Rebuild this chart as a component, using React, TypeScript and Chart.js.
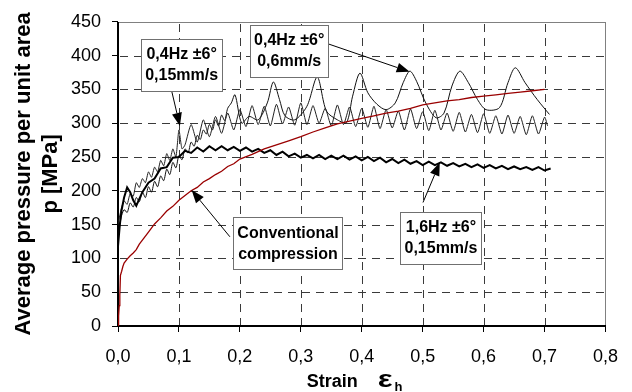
import React, { useEffect, useRef } from 'react';
import { Chart, registerables } from 'chart.js';

Chart.register(...registerables);

const FONT = 'Arial, "Liberation Sans", Helvetica, sans-serif';

const xTickLabels = ['0,0', '0,1', '0,2', '0,3', '0,4', '0,5', '0,6', '0,7', '0,8'];
const yTickLabels = ['0', '50', '100', '150', '200', '250', '300', '350', '400', '450'];

// Conventional compression
const convStrain = [0, 0.001, 0.002, 0.003, 0.004, 0.006, 0.008, 0.01, 0.015, 0.02, 0.025, 0.03, 0.035, 0.04,
  0.05, 0.06, 0.07, 0.08, 0.09, 0.1, 0.11, 0.12, 0.13, 0.14, 0.15, 0.16, 0.17, 0.18, 0.19, 0.2,
  0.22, 0.24, 0.26, 0.28, 0.3, 0.32, 0.34, 0.36, 0.38, 0.4, 0.42, 0.44, 0.46, 0.48, 0.5, 0.52, 0.54,
  0.56, 0.58, 0.6, 0.62, 0.64, 0.66, 0.68, 0.7];
const convPressure = [0, 15, 30, 45, 75, 81, 88, 93, 99, 104, 108, 113, 121, 127,
  139, 151, 160, 170, 177, 186, 193, 200, 205, 213, 218, 224, 229, 236, 240, 247,
  254, 262, 268, 274, 280, 287, 293, 299, 303, 307, 311, 315, 318, 322, 327, 330, 333,
  335, 338, 340, 342, 344, 346, 348, 350];

// 1,6Hz ±6° 0,15mm/s
const hz16Strain = [0, 0.003, 0.006, 0.01, 0.015, 0.02, 0.025, 0.03, 0.035, 0.04,
  0.05, 0.06, 0.07, 0.08, 0.09, 0.1, 0.11, 0.12, 0.13, 0.14, 0.15, 0.16, 0.17, 0.18, 0.19, 0.2,
  0.21, 0.22, 0.23, 0.24, 0.25, 0.26, 0.27, 0.28, 0.29, 0.3, 0.31, 0.32, 0.33, 0.34, 0.35, 0.36,
  0.37, 0.38, 0.39, 0.4, 0.41, 0.42, 0.43, 0.44, 0.45, 0.46, 0.47, 0.48, 0.49, 0.5, 0.51, 0.52,
  0.53, 0.54, 0.55, 0.56, 0.57, 0.58, 0.59, 0.6, 0.61, 0.62, 0.63, 0.64, 0.65, 0.66, 0.67, 0.68,
  0.69, 0.7, 0.71];
const hz16Pressure = [118, 150, 172, 190, 205, 198, 186, 178, 188, 198,
  212, 218, 233, 235, 249, 250, 259, 256, 264, 258, 266, 260, 266, 260, 265, 259,
  264, 258, 262, 256, 260, 253, 258, 251, 255, 249, 253, 248, 253, 247, 252, 247,
  252, 246, 251, 245, 250, 244, 249, 242, 247, 241, 246, 240, 244, 238, 243, 238,
  242, 237, 241, 236, 240, 235, 239, 234, 238, 233, 237, 232, 236, 232, 235, 231,
  235, 230, 233];

// 0,4Hz ±6° 0,15mm/s
const hz04SlowStrain = [0, 0.005, 0.01, 0.015, 0.02, 0.025, 0.03, 0.035, 0.04, 0.045, 0.05, 0.055,
  0.06, 0.065, 0.07, 0.075, 0.08, 0.085, 0.09, 0.095, 0.1, 0.105,
  0.11, 0.12, 0.13, 0.14, 0.15, 0.16, 0.17, 0.18, 0.19, 0.2,
  0.21, 0.22, 0.23, 0.24, 0.25, 0.26, 0.27, 0.28, 0.29, 0.3,
  0.31, 0.32, 0.33, 0.34, 0.35, 0.36, 0.37, 0.38, 0.39, 0.4,
  0.41, 0.42, 0.43, 0.44, 0.45, 0.46, 0.47, 0.48, 0.49, 0.5,
  0.51, 0.52, 0.53, 0.54, 0.55, 0.56, 0.57, 0.58, 0.59, 0.6,
  0.61, 0.62, 0.63, 0.64, 0.65, 0.66, 0.67, 0.68, 0.69, 0.7, 0.705];
const hz04SlowPressure = [150, 172, 185, 180, 196, 192, 212, 205, 218, 212, 228, 220,
  235, 228, 245, 237, 255, 245, 262, 250, 290, 262,
  268, 298, 272, 305, 280, 310, 285, 315, 290, 320,
  295, 326, 298, 325, 296, 328, 299, 324, 297, 330,
  298, 326, 300, 322, 296, 327, 298, 324, 295, 322,
  294, 325, 292, 320, 293, 318, 290, 321, 292, 317,
  289, 319, 290, 315, 288, 316, 287, 313, 286, 314,
  285, 311, 284, 312, 285, 310, 283, 311, 284, 309, 296];

// 0,4Hz ±6° 0,6mm/s
const hz04FastStrain = [0, 0.005, 0.01, 0.015, 0.02, 0.025, 0.03, 0.035, 0.04, 0.045, 0.05, 0.055,
  0.06, 0.065, 0.07, 0.075, 0.08, 0.085, 0.09, 0.095, 0.1, 0.105, 0.11, 0.115, 0.12, 0.125,
  0.13, 0.135, 0.14, 0.145, 0.15, 0.155, 0.16, 0.165, 0.17, 0.175, 0.18, 0.186, 0.192,
  0.203, 0.215, 0.23, 0.245, 0.255, 0.265, 0.274, 0.29, 0.31, 0.327,
  0.342, 0.36, 0.375, 0.385, 0.397, 0.41, 0.425, 0.44, 0.455, 0.468,
  0.479, 0.49, 0.505, 0.522, 0.535, 0.548, 0.561, 0.575, 0.59, 0.604,
  0.626, 0.64, 0.652, 0.668, 0.688, 0.708];
const hz04FastPressure = [130, 160, 172, 168, 182, 176, 190, 184, 198, 190, 206, 198,
  214, 206, 222, 215, 232, 224, 242, 234, 252, 246, 262, 256, 272, 266,
  282, 276, 290, 284, 298, 290, 305, 296, 312, 304, 322, 330, 342,
  300, 310, 305, 330, 361, 335, 311, 305, 325, 368,
  318, 305, 301, 340, 374, 345, 328, 320, 330, 360,
  377, 362, 330, 308, 315, 355, 377, 360, 335, 320,
  323, 360, 382, 360, 335, 313];

// Callouts (label centre and arrow ends in data units: strain, pressure)
const callouts = [
  { lines: ['0,4Hz ±6°', '0,15mm/s'], center: [0.1044, 386.5], from: [0.088, 348], to: [0.1016, 296] },
  { lines: ['0,4Hz ±6°', '0,6mm/s'], center: [0.281, 407.5], from: [0.346, 417], to: [0.4787, 376] },
  { lines: ['Conventional', 'compression'], center: [0.279, 122.5], from: [0.1836, 132], to: [0.1208, 201] },
  { lines: ['1,6Hz ±6°', '0,15mm/s'], center: [0.53, 130.5], from: [0.5005, 182.7], to: [0.528, 241.7] },
];

const zip = (xs: number[], ys: number[]) => xs.map((x, i) => ({ x, y: ys[i] }));

const DASH = 8, GAP = 6;

const decorPlugin = {
  id: 'decor',
  beforeDatasetsDraw(chart: any) {
    const { ctx, chartArea: a, scales } = chart;
    ctx.save();
    ctx.fillStyle = '#3a3a3a';
    const L = Math.round(a.left), R = Math.round(a.right), T = Math.round(a.top), B = Math.round(a.bottom);
    scales.y.ticks.forEach((t: any) => {
      if (t.value <= 0 || t.value >= 450) return;
      const y = Math.round(scales.y.getPixelForValue(t.value));
      for (let p = L + 2; p < R; p += DASH + GAP) {
        ctx.fillRect(p, y, Math.min(DASH, R - p), 1);
      }
    });
    scales.x.ticks.forEach((t: any) => {
      if (t.value <= 0 || t.value >= 0.8) return;
      const x = Math.round(scales.x.getPixelForValue(t.value));
      for (let p = T + 2; p < B; p += DASH + GAP) {
        ctx.fillRect(x, p, 1, Math.min(DASH, B - p));
      }
    });
    // top and right frame
    ctx.fillStyle = '#808080';
    ctx.fillRect(L, T, R - L + 1, 1);
    ctx.fillRect(R, T, 1, B - T);
    // axes
    ctx.fillStyle = '#000';
    ctx.fillRect(L - 1, T, 2, B - T + 1);
    ctx.fillRect(L - 1, B - 1, R - L + 2, 2);
    ctx.restore();
  },
  afterDraw(chart: any) {
    const { ctx, chartArea: a, scales } = chart;
    const sx = scales.x, sy = scales.y;
    ctx.save();
    callouts.forEach((c) => {
      const x1 = sx.getPixelForValue(c.from[0]);
      const y1 = sy.getPixelForValue(c.from[1]);
      const x2 = sx.getPixelForValue(c.to[0]);
      const y2 = sy.getPixelForValue(c.to[1]);
      const ang = Math.atan2(y2 - y1, x2 - x1);
      const len = 13, half = 5;
      const bx = x2 - len * Math.cos(ang), by = y2 - len * Math.sin(ang);
      ctx.strokeStyle = '#000';
      ctx.lineWidth = 1;
      ctx.beginPath();
      ctx.moveTo(x1, y1);
      ctx.lineTo(bx, by);
      ctx.stroke();
      ctx.fillStyle = '#000';
      ctx.beginPath();
      ctx.moveTo(x2, y2);
      ctx.lineTo(bx - half * Math.sin(ang), by + half * Math.cos(ang));
      ctx.lineTo(bx + half * Math.sin(ang), by - half * Math.cos(ang));
      ctx.closePath();
      ctx.fill();
    });
    ctx.font = `bold 16px ${FONT}`;
    ctx.textAlign = 'center';
    ctx.textBaseline = 'middle';
    callouts.forEach((c) => {
      const cx = sx.getPixelForValue(c.center[0]);
      const cy = sy.getPixelForValue(c.center[1]);
      const w = Math.max(...c.lines.map((l) => ctx.measureText(l).width)) + 8;
      const h = 52;
      const l = Math.round(cx - w / 2) + 0.5, t = Math.round(cy - h / 2) + 0.5;
      ctx.fillStyle = '#fff';
      ctx.fillRect(l, t, Math.round(w), h);
      ctx.strokeStyle = '#707070';
      ctx.lineWidth = 1;
      ctx.strokeRect(l, t, Math.round(w), h);
      ctx.fillStyle = '#000';
      ctx.fillText(c.lines[0], cx, cy - 10);
      ctx.fillText(c.lines[1], cx, cy + 11);
    });
    const mid = (a.left + a.right) / 2;
    ctx.textAlign = 'left';
    ctx.textBaseline = 'alphabetic';
    ctx.fillStyle = '#000';
    ctx.font = `bold 18px ${FONT}`;
    const sLeft = mid - 55;
    ctx.fillText('Strain', sLeft, 387);
    ctx.save();
    ctx.translate(sLeft + 71, 387);
    ctx.scale(1.3, 1);
    ctx.font = `bold 24px ${FONT}`;
    ctx.fillText('ε', 0, 0);
    const ew = ctx.measureText('ε').width * 1.3;
    ctx.restore();
    ctx.font = `bold 13px ${FONT}`;
    ctx.fillText('h', sLeft + 71 + ew + 2, 391);
    ctx.restore();
  },
};

const gridOpts = {
  drawOnChartArea: false,
  drawTicks: true,
  tickLength: 6,
  tickColor: '#000',
  color: '#000',
  lineWidth: 1,
};

export default function App() {
  const ref = useRef<HTMLCanvasElement>(null);
  useEffect(() => {
    if (!ref.current) return;
    const chart = new Chart(ref.current, {
      type: 'line',
      data: {
        datasets: [
          { label: 'Conventional compression', data: zip(convStrain, convPressure), borderColor: '#9a0000', borderWidth: 1.3, pointRadius: 0, tension: 0 },
          { label: '1,6Hz ±6° 0,15mm/s', data: zip(hz16Strain, hz16Pressure), borderColor: '#000', borderWidth: 2, pointRadius: 0, tension: 0 },
          { label: '0,4Hz ±6° 0,15mm/s', data: zip(hz04SlowStrain, hz04SlowPressure), borderColor: '#222', borderWidth: 1, pointRadius: 0, tension: 0.2 },
          { label: '0,4Hz ±6° 0,6mm/s', data: zip(hz04FastStrain, hz04FastPressure), borderColor: '#111', borderWidth: 1, pointRadius: 0, tension: 0.3 },
        ],
      },
      options: {
        animation: false,
        responsive: false,
        layout: { padding: { top: 16, right: 26, bottom: 0, left: 0 } },
        plugins: { legend: { display: false }, tooltip: { enabled: false } },
        scales: {
          x: {
            type: 'linear',
            min: 0,
            max: 0.8,
            afterFit: (s: any) => { s.height = 66; },
            ticks: {
              stepSize: 0.1,
              color: '#000',
              font: { family: FONT, size: 18 },
              padding: 14,
              maxRotation: 0,
              callback: (_v: any, i: number) => xTickLabels[i],
            },
            grid: gridOpts,
            border: { display: false },
            title: { display: false },
          },
          y: {
            type: 'linear',
            min: 0,
            max: 450,
            afterFit: (s: any) => { s.width = 118; },
            ticks: {
              stepSize: 50,
              color: '#000',
              font: { family: FONT, size: 18 },
              padding: 11,
              callback: (_v: any, i: number) => yTickLabels[i],
            },
            grid: gridOpts,
            border: { display: false },
            title: {
              display: true,
              text: ['Average pressure per unit area', 'p [MPa]'],
              color: '#000',
              font: { family: FONT, size: 22, weight: 'bold', lineHeight: 1.25 },
              padding: { top: 10, bottom: 0 },
            },
          },
        },
      } as any,
      plugins: [decorPlugin],
    });
    return () => chart.destroy();
  }, []);
  return (
    <div style={{ position: 'absolute', left: 0, top: 0, width: 632, height: 392 }}>
      <canvas ref={ref} width={632} height={392} style={{ width: 632, height: 392 }} />
    </div>
  );
}
